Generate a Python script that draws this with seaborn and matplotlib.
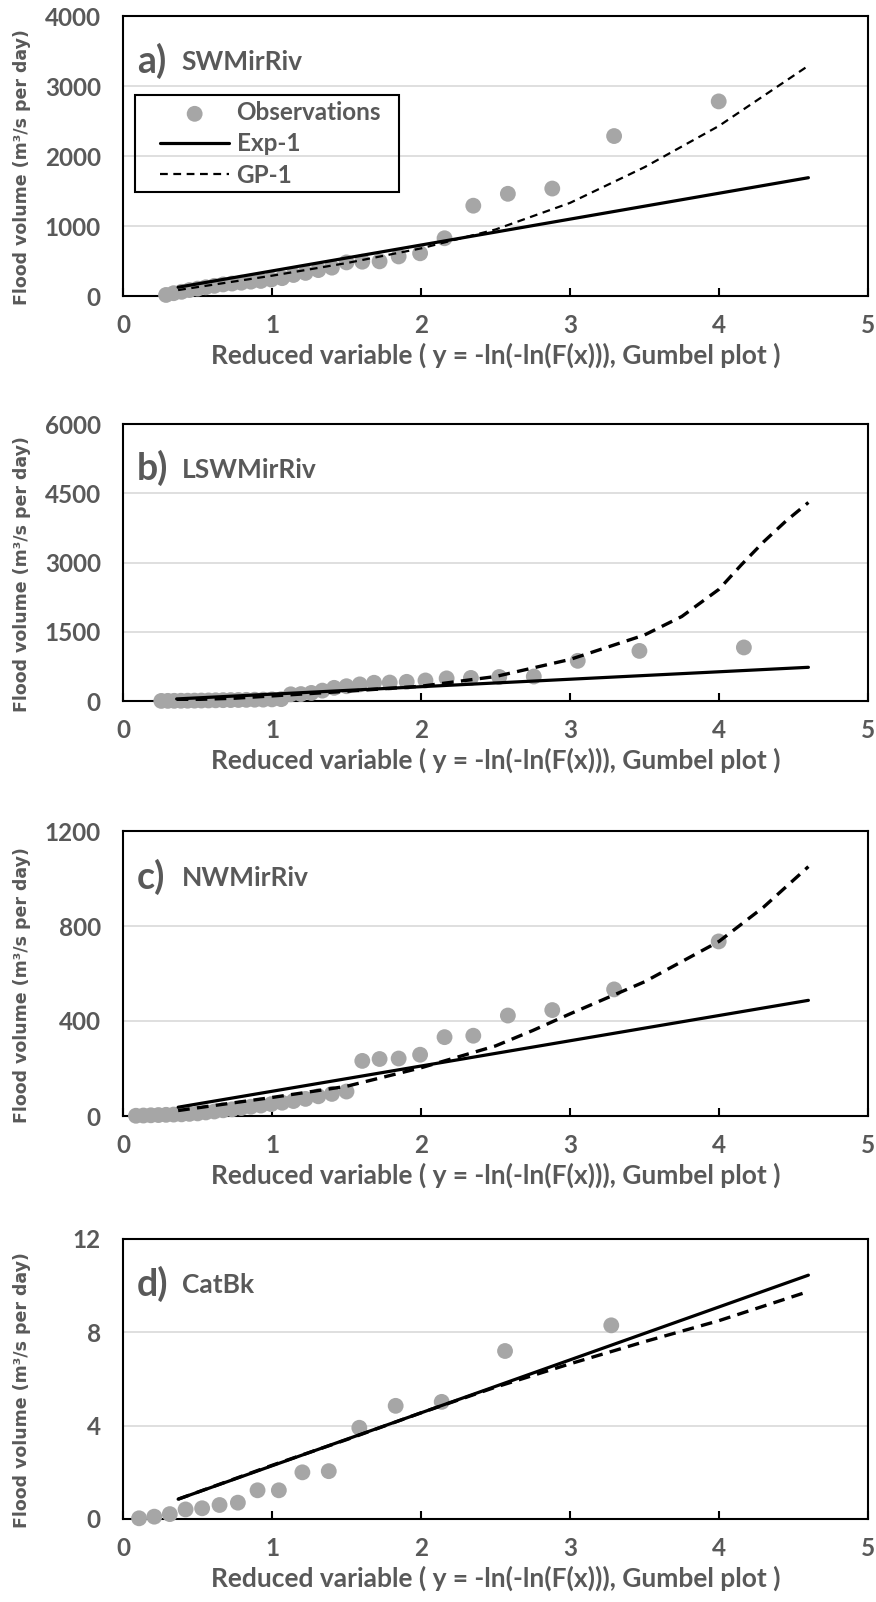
import numpy as np
import pandas as pd
import matplotlib
matplotlib.use("Agg")
import matplotlib.pyplot as plt
from matplotlib.patches import Rectangle
import seaborn as sns

sns.set_theme(style="white")
plt.rcParams['font.family'] = ['Lato', 'DejaVu Sans']

# ---------------- data ----------------
# panel a: SWMirRiv
a_obs_x = [3.998, 3.296, 2.881, 2.583, 2.351, 2.158, 1.994, 1.850, 1.722, 1.606,
           1.500, 1.402, 1.311, 1.225, 1.144, 1.068, 0.995, 0.925, 0.858, 0.794,
           0.732, 0.672, 0.613, 0.556, 0.501, 0.446, 0.393, 0.340, 0.289]
a_obs_y = [2780, 2285, 1535, 1460, 1290, 825, 610, 565, 495, 490,
           480, 405, 370, 330, 300, 255, 235, 215, 205, 190,
           178, 165, 145, 125, 105, 85, 60, 40, 15]
a_exp_x = [0.37, 4.6]
a_exp_y = [125, 1690]
a_gp_x = [0.37, 1.0, 1.5, 2.0, 2.5, 3.0, 3.5, 4.0, 4.6]
a_gp_y = [85, 290, 470, 680, 950, 1330, 1840, 2430, 3290]

# panel b: LSWMirRiv
b_obs_x = [4.167, 3.466, 3.052, 2.757, 2.525, 2.335, 2.172, 2.030, 1.904, 1.790,
           1.685, 1.589, 1.500, 1.417, 1.338, 1.264, 1.194, 1.126, 1.062, 1.000,
           0.941, 0.884, 0.828, 0.775, 0.723, 0.672, 0.622, 0.574, 0.526, 0.480,
           0.434, 0.389, 0.344, 0.301, 0.257]
b_obs_y = [1160, 1085, 870, 530, 520, 500, 490, 445, 415, 400,
           395, 360, 320, 285, 225, 175, 150, 145, 40, 35,
           30, 28, 25, 22, 20, 18, 15, 12, 10, 8,
           6, 5, 4, 3, 2]
b_exp_x = [0.36, 4.6]
b_exp_y = [45, 730]
b_gp_x = [0.36, 0.75, 1.0, 1.5, 2.0, 2.5, 3.0, 3.5, 3.75, 4.0, 4.15, 4.3, 4.45, 4.6]
b_gp_y = [20, 60, 110, 210, 320, 530, 900, 1430, 1830, 2420, 2950, 3450, 3900, 4300]

# panel c: NWMirRiv
c_obs_x = [3.998, 3.296, 2.881, 2.583, 2.351, 2.158, 1.994, 1.850, 1.722, 1.606,
           1.500, 1.402, 1.311, 1.225, 1.144, 1.068, 0.995, 0.925, 0.858, 0.794,
           0.732, 0.672, 0.613, 0.556, 0.501, 0.446, 0.393, 0.340, 0.289, 0.238,
           0.187, 0.137, 0.087]
c_obs_y = [735, 533, 446, 423, 338, 332, 258, 242, 240, 232,
           103, 93, 83, 72, 63, 56, 50, 44, 39, 34,
           28, 24, 19, 15, 11, 9, 7, 6, 5, 4,
           3, 2, 1]
c_exp_x = [0.37, 4.6]
c_exp_y = [37, 487]
c_gp_x = [0.37, 1.0, 1.5, 2.0, 2.5, 2.75, 3.0, 3.5, 4.0, 4.3, 4.6]
c_gp_y = [23, 78, 125, 203, 295, 360, 430, 565, 735, 880, 1050]

# panel d: CatBk
d_obs_x = [3.277, 2.564, 2.139, 1.830, 1.586, 1.381, 1.204, 1.046, 0.903, 0.771,
           0.648, 0.531, 0.420, 0.314, 0.210, 0.108]
d_obs_y = [8.30, 7.20, 5.02, 4.85, 3.91, 2.05, 2.00, 1.23, 1.23, 0.70,
           0.60, 0.46, 0.41, 0.21, 0.10, 0.03]
d_exp_x = [0.37, 4.6]
d_exp_y = [0.85, 10.45]
d_gp_x = [0.37, 1.0, 1.5, 2.0, 2.5, 3.0, 3.5, 4.0, 4.6]
d_gp_y = [0.85, 2.3, 3.4, 4.55, 5.65, 6.65, 7.6, 8.5, 9.75]

panel_letters = ["a)", "b)", "c)", "d)"]
panel_names = ["SWMirRiv", "LSWMirRiv", "NWMirRiv", "CatBk"]
y_ticks = [[0, 1000, 2000, 3000, 4000],
           [0, 1500, 3000, 4500, 6000],
           [0, 400, 800, 1200],
           [0, 4, 8, 12]]
x_ticks = [0, 1, 2, 3, 4, 5]
x_label = "Reduced variable ( y = -ln(-ln(F(x))), Gumbel plot )"
y_label = "Flood volume (m³/s per day)"
legend_labels = ["Observations", "Exp-1", "GP-1"]

obs = [(a_obs_x, a_obs_y), (b_obs_x, b_obs_y), (c_obs_x, c_obs_y), (d_obs_x, d_obs_y)]
exps = [(a_exp_x, a_exp_y), (b_exp_x, b_exp_y), (c_exp_x, c_exp_y), (d_exp_x, d_exp_y)]
gps = [(a_gp_x, a_gp_y), (b_gp_x, b_gp_y), (c_gp_x, c_gp_y), (d_gp_x, d_gp_y)]

# ---------------- layout ----------------
W, H = 876, 1602
fig = plt.figure(figsize=(W / 100, H / 100), dpi=100)
panel_px = [(16, 296), (424, 701), (831, 1116), (1239, 1519)]
left_px, right_px = 123, 868

TXT = "#595959"
OBS_C = "#A6A6A6"

for k in range(4):
    top, bot = panel_px[k]
    ax = fig.add_axes([left_px / W, 1 - bot / H, (right_px - left_px) / W, (bot - top) / H])
    ox, oy = obs[k]
    ex, ey = exps[k]
    gx, gy = gps[k]
    sns.scatterplot(x=ox, y=oy, ax=ax, color=OBS_C, s=130, edgecolor="none",
                    linewidth=0, zorder=3, label=legend_labels[0], clip_on=False)
    sns.lineplot(x=ex, y=ey, ax=ax, color="black", lw=2.3, zorder=4,
                 estimator=None, sort=False, label=legend_labels[1])
    if k == 0:
        sns.lineplot(x=gx, y=gy, ax=ax, color="black", lw=1.6, zorder=4,
                     estimator=None, sort=False, label=legend_labels[2],
                     linestyle=(0, (3.5, 2.5)))
    else:
        sns.lineplot(x=gx, y=gy, ax=ax, color="black", lw=2.4, zorder=4,
                     estimator=None, sort=False, label=legend_labels[2],
                     linestyle=(0, (3.5, 2.2)))

    ax.set_xlim(0, 5)
    ax.set_ylim(y_ticks[k][0], y_ticks[k][-1])
    ax.set_xticks(x_ticks)
    ax.set_yticks(y_ticks[k])
    ax.set_xticklabels([str(t) for t in x_ticks])
    ax.set_yticklabels([str(t) for t in y_ticks[k]])
    ax.yaxis.grid(True, color="#D9D9D9", lw=1.2, zorder=0)
    ax.xaxis.grid(False)
    ax.set_axisbelow(True)
    for sp in ax.spines.values():
        sp.set_color("black")
        sp.set_linewidth(1.5)
    ax.tick_params(axis="x", direction="in", length=6, width=1.5, color="black",
                   pad=13, labelsize=17.5, labelcolor=TXT, bottom=True)
    ax.tick_params(axis="y", length=0, pad=16, labelsize=17.5, labelcolor=TXT)
    for lab in ax.get_xticklabels() + ax.get_yticklabels():
        lab.set_fontweight("bold")
    ax.set_xlabel(x_label, fontsize=19, fontweight="bold", color=TXT, labelpad=4)
    ax.set_ylabel(y_label, fontsize=12.5, fontweight="bold", color=TXT,
                  family="DejaVu Sans")
    ax.yaxis.set_label_coords(-0.124, 0.46)

    ax.text(0.019, 0.84, panel_letters[k], transform=ax.transAxes, fontsize=27,
            fontweight="bold", color=TXT, va="center", ha="left")
    ax.text(0.079, 0.835, panel_names[k], transform=ax.transAxes, fontsize=19,
            fontweight="bold", color=TXT, va="center", ha="left")

    if k == 0:
        leg = ax.legend(loc="center left", bbox_to_anchor=(0.0497, 0.543),
                        frameon=False, fontsize=17.5, handlelength=2.85,
                        handletextpad=0.3, labelspacing=0.34, borderpad=0,
                        borderaxespad=0)
        for t in leg.get_texts():
            t.set_color(TXT)
            t.set_fontweight("bold")
        ax.add_patch(Rectangle((0.0161, 0.3714), 0.3544, 0.3465,
                               transform=ax.transAxes, fill=False,
                               edgecolor="black", lw=1.5, zorder=6))
    else:
        ax.get_legend().remove()

fig.savefig("out.png", dpi=100)
